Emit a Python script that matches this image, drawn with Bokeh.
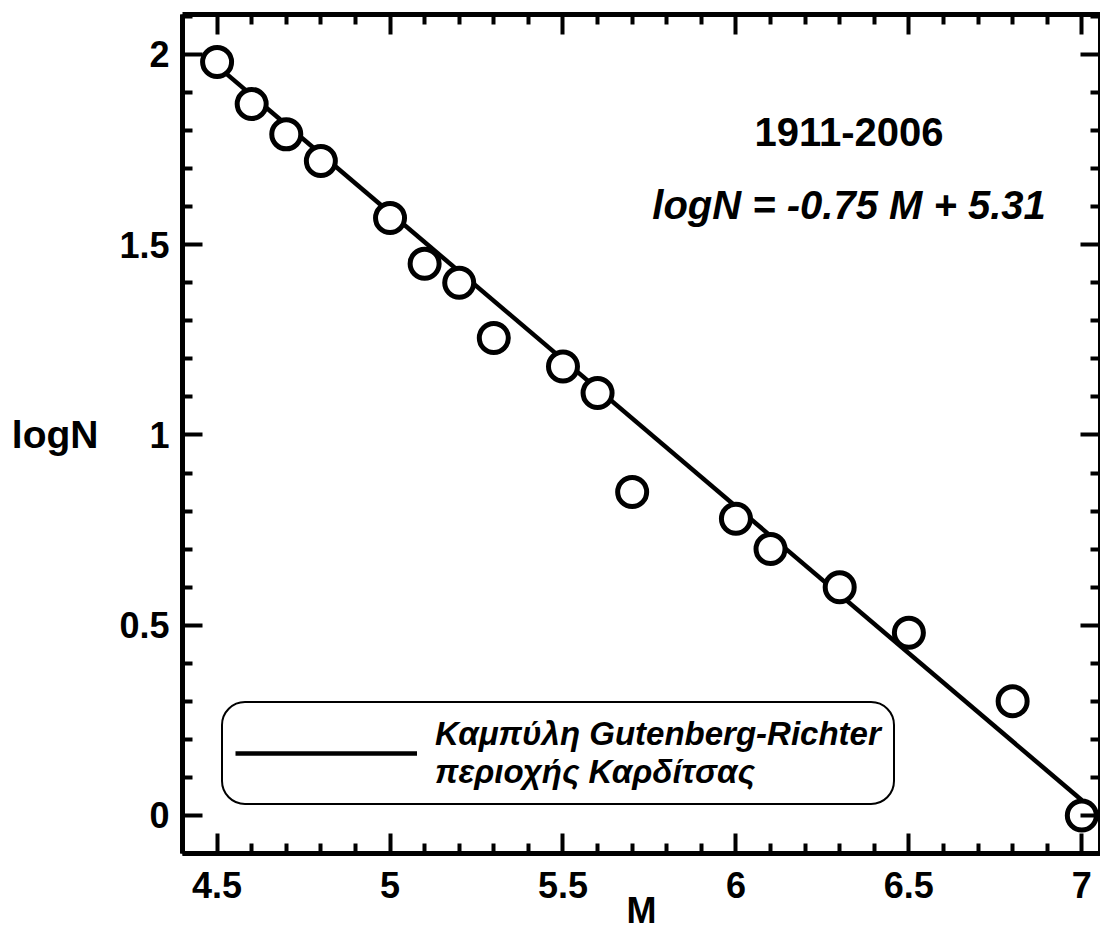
from bokeh.plotting import figure
from bokeh.models import (LinearAxis, FixedTicker, CustomJSTickFormatter, Label,
                          Legend, LegendItem, Range1d)
from bokeh.embed import file_html
from bokeh.resources import INLINE

# ---- data ----
M_vals = [4.5, 4.6, 4.7, 4.8, 5.0, 5.1, 5.2, 5.3, 5.5, 5.6, 5.7, 6.0, 6.1, 6.3, 6.5, 6.8, 7.0]
logN_vals = [1.98, 1.87, 1.79, 1.72, 1.57, 1.45, 1.40, 1.255, 1.18, 1.11, 0.85, 0.78, 0.70, 0.60, 0.48, 0.30, 0.0]
fit_M = [4.5, 7.0]
fit_logN = [1.97, 0.04]

x_major = [4.5, 5.0, 5.5, 6.0, 6.5, 7.0]
x_minor = [4.4, 4.6, 4.7, 4.8, 4.9, 5.1, 5.2, 5.3, 5.4, 5.6, 5.7, 5.8, 5.9,
           6.1, 6.2, 6.3, 6.4, 6.6, 6.7, 6.8, 6.9, 7.1]
y_major = [0.0, 0.5, 1.0, 1.5, 2.0]
y_minor = [-0.1, 0.1, 0.2, 0.3, 0.4, 0.6, 0.7, 0.8, 0.9, 1.1, 1.2, 1.3, 1.4,
           1.6, 1.7, 1.8, 1.9, 2.1]

legend_label = "Καμπύλη Gutenberg-Richter\nπεριοχής Καρδίτσας"
period_text = "1911-2006"
equation_text = "logN = -0.75 M + 5.31"
x_title = "M"
y_title = "logN"

FONT = "Liberation Sans"

p = figure(width=1100, height=935,
           x_range=Range1d(4.4, 7.054), y_range=Range1d(-0.1, 2.105),
           output_backend="svg", toolbar_location=None,
           min_border_left=182, min_border_right=0,
           min_border_top=14, min_border_bottom=82)
p.xgrid.grid_line_color = None
p.ygrid.grid_line_color = None
p.outline_line_color = None
p.background_fill_color = "white"
p.border_fill_color = "white"

show_fmt = CustomJSTickFormatter(code="return tick.toString();")


def style_axis(ax, major, minor, labels):
    ax.ticker = FixedTicker(ticks=major, minor_ticks=minor)
    ax.axis_line_width = 5
    ax.axis_line_color = "black"
    ax.major_tick_in = 20
    ax.major_tick_out = 0
    ax.minor_tick_in = 10
    ax.minor_tick_out = 0
    ax.major_tick_line_width = 4
    ax.minor_tick_line_width = 4
    ax.major_tick_line_color = "black"
    ax.minor_tick_line_color = "black"
    ax.major_label_text_font = FONT
    ax.major_label_text_font_style = "bold"
    ax.major_label_text_color = "black"
    if labels:
        ax.formatter = show_fmt
        ax.major_label_text_font_size = "36px"
    else:
        ax.formatter = CustomJSTickFormatter(code="return '';")
        ax.major_label_text_font_size = "0px"
        ax.major_label_standoff = 0


xb = p.xaxis[0]
style_axis(xb, x_major, x_minor, True)
xb.major_label_standoff = 18
xb.axis_label = x_title
xb.axis_label_text_font = FONT
xb.axis_label_text_font_style = "bold"
xb.axis_label_text_font_size = "36px"
xb.axis_label_text_color = "black"
xb.axis_label_standoff = -11

yl = p.yaxis[0]
style_axis(yl, y_major, y_minor, True)
yl.major_label_standoff = 13
yl.axis_label = y_title
yl.axis_label_orientation = "horizontal"
yl.axis_label_text_font = FONT
yl.axis_label_text_font_style = "bold"
yl.axis_label_text_font_size = "39px"
yl.axis_label_text_color = "black"
yl.axis_label_standoff = 18

xt = LinearAxis()
style_axis(xt, x_major, x_minor, False)
p.add_layout(xt, "above")

yr = LinearAxis()
style_axis(yr, y_major, y_minor, False)
p.add_layout(yr, "right")

# ---- marks ----
r_fit = p.line(fit_M, fit_logN, line_width=4.5, line_color="black")
p.scatter(M_vals, logN_vals, size=29, marker="circle",
          fill_color="white", line_color="black", line_width=5)

# ---- legend ----
legend = Legend(items=[LegendItem(label=legend_label, renderers=[r_fit])],
                location=(39, 48), margin=0, padding=12,
                glyph_width=182, glyph_height=30, label_standoff=18,
                label_text_font=FONT, label_text_font_style="bold italic",
                label_text_font_size="33px", label_text_color="black",
                label_text_line_height=1.0,
                border_line_color="black", border_line_width=2,
                border_line_alpha=1.0,
                background_fill_color="white", background_fill_alpha=1.0)
if "border_radius" in Legend.properties():
    legend.border_radius = 24
p.add_layout(legend)

# ---- annotations ----
p.add_layout(Label(x=6.327, y=1.797, text=period_text, text_align="center",
                   text_baseline="alphabetic", text_font=FONT,
                   text_font_style="bold", text_font_size="40px",
                   text_color="black"))
p.add_layout(Label(x=6.327, y=1.605, text=equation_text, text_align="center",
                   text_baseline="alphabetic", text_font=FONT,
                   text_font_style="bold italic", text_font_size="40px",
                   text_color="black"))

open("out.html", "w").write(file_html(p, INLINE))
